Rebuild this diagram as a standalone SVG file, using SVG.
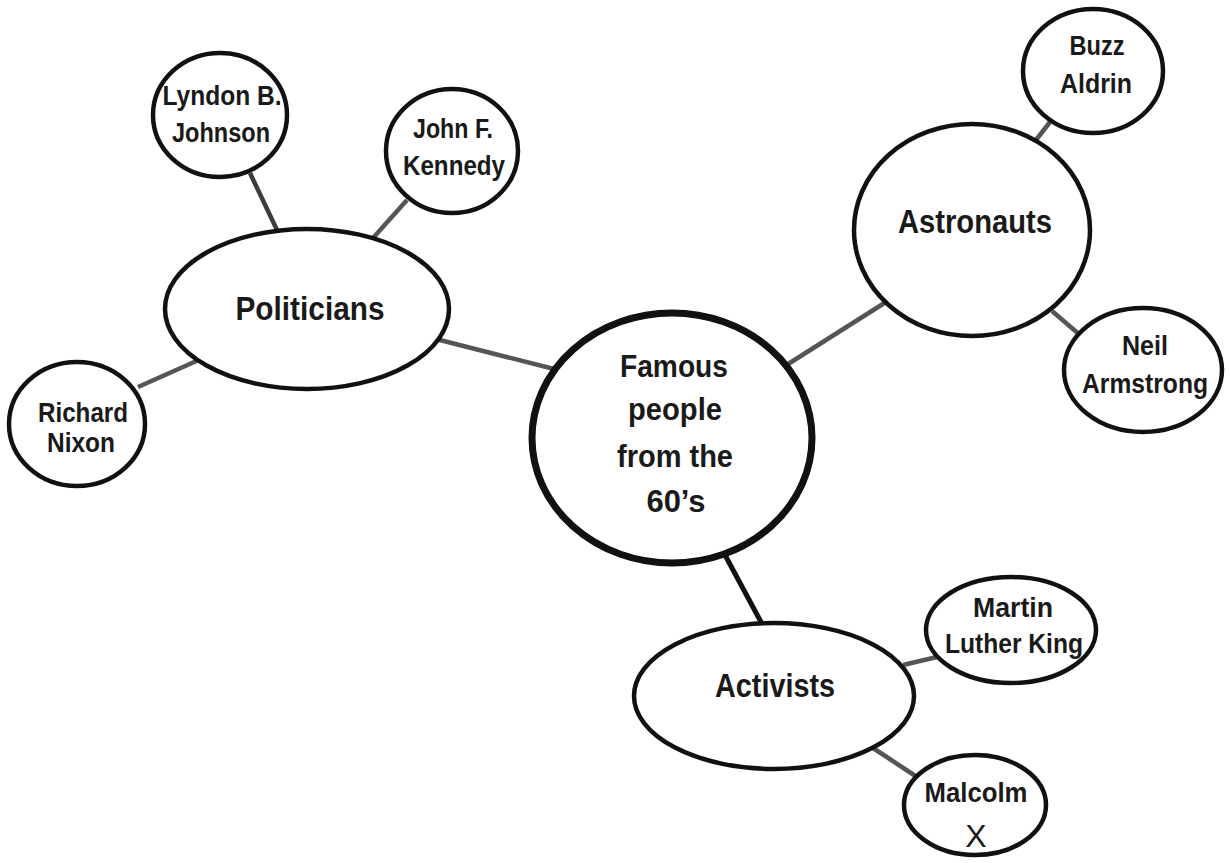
<svg xmlns="http://www.w3.org/2000/svg" width="1230" height="863" viewBox="0 0 1230 863">
  <style>
    .node { fill: #fff; stroke: #111; stroke-width: 4.5; }
    .hub { fill: #fff; stroke: #111; stroke-width: 7; }
    .link { stroke: #555; stroke-width: 4.5; fill: none; }
    .link.dark { stroke: #3c3c3c; }
    .link.black { stroke: #111; stroke-width: 5; }
    text { font-family: "Liberation Sans", Arial, sans-serif; font-weight: bold; fill: #1a1a1a; text-anchor: middle; }
    .s { font-size: 28px; }
    .m { font-size: 31px; }
    .l { font-size: 33px; }
    .x { font-weight: normal; font-size: 32px; }
  </style>
  <rect width="1230" height="863" fill="#fff"/>

  <g id="connectors">
    <line class="link dark" x1="250" y1="173" x2="277" y2="230"/>
    <line class="link" x1="407" y1="200" x2="373" y2="238"/>
    <line class="link" x1="138" y1="387" x2="210" y2="355"/>
    <line class="link" x1="432" y1="338" x2="558" y2="370"/>
    <line class="link" x1="785" y1="366" x2="886" y2="302"/>
    <line class="link" x1="1050" y1="122" x2="1036" y2="140"/>
    <line class="link" x1="1052" y1="311" x2="1080" y2="335"/>
    <line class="link black" x1="725" y1="555" x2="761" y2="622"/>
    <line class="link" x1="903" y1="665" x2="937" y2="657"/>
    <line class="link" x1="873" y1="748" x2="917" y2="777"/>
  </g>

  <g id="center">
    <ellipse class="hub" cx="672" cy="438" rx="140" ry="125"/>
    <text class="m" x="674" y="377" textLength="108" lengthAdjust="spacingAndGlyphs">Famous</text>
    <text class="m" x="675" y="420" textLength="94" lengthAdjust="spacingAndGlyphs">people</text>
    <text class="m" x="675" y="467" textLength="116" lengthAdjust="spacingAndGlyphs">from the</text>
    <text class="m" x="676" y="512" textLength="59" lengthAdjust="spacingAndGlyphs">60’s</text>
  </g>

  <g id="politicians">
    <ellipse class="node" cx="307" cy="309" rx="142" ry="80"/>
    <text class="l" x="310" y="320" textLength="149" lengthAdjust="spacingAndGlyphs">Politicians</text>
  </g>

  <g id="lyndon-johnson">
    <ellipse class="node" cx="220" cy="115" rx="67" ry="62"/>
    <text class="s" x="222" y="105" textLength="119" lengthAdjust="spacingAndGlyphs">Lyndon B.</text>
    <text class="s" x="221" y="142" textLength="98" lengthAdjust="spacingAndGlyphs">Johnson</text>
  </g>

  <g id="john-kennedy">
    <ellipse class="node" cx="452" cy="151" rx="66" ry="62"/>
    <text class="s" x="453" y="138" textLength="80" lengthAdjust="spacingAndGlyphs">John F.</text>
    <text class="s" x="454" y="175" textLength="102" lengthAdjust="spacingAndGlyphs">Kennedy</text>
  </g>

  <g id="richard-nixon">
    <ellipse class="node" cx="77" cy="424" rx="68" ry="62"/>
    <text class="s" x="83" y="422" textLength="90" lengthAdjust="spacingAndGlyphs">Richard</text>
    <text class="s" x="81" y="452" textLength="68" lengthAdjust="spacingAndGlyphs">Nixon</text>
  </g>

  <g id="astronauts">
    <ellipse class="node" cx="972" cy="230" rx="118" ry="106"/>
    <text class="l" x="975" y="233" textLength="154" lengthAdjust="spacingAndGlyphs">Astronauts</text>
  </g>

  <g id="buzz-aldrin">
    <ellipse class="node" cx="1093" cy="71" rx="70" ry="62"/>
    <text class="s" x="1097" y="55" textLength="55" lengthAdjust="spacingAndGlyphs">Buzz</text>
    <text class="s" x="1096" y="93" textLength="72" lengthAdjust="spacingAndGlyphs">Aldrin</text>
  </g>

  <g id="neil-armstrong">
    <ellipse class="node" cx="1143" cy="370" rx="79" ry="62"/>
    <text class="s" x="1145" y="355" textLength="46" lengthAdjust="spacingAndGlyphs">Neil</text>
    <text class="s" x="1145" y="393" textLength="126" lengthAdjust="spacingAndGlyphs">Armstrong</text>
  </g>

  <g id="activists">
    <ellipse class="node" cx="774" cy="696" rx="140" ry="73"/>
    <text class="l" x="775" y="697" textLength="120" lengthAdjust="spacingAndGlyphs">Activists</text>
  </g>

  <g id="martin-luther-king">
    <ellipse class="node" cx="1011" cy="630" rx="85" ry="53"/>
    <text class="s" x="1013" y="617" textLength="80" lengthAdjust="spacingAndGlyphs">Martin</text>
    <text class="s" x="1014" y="653" textLength="138" lengthAdjust="spacingAndGlyphs">Luther King</text>
  </g>

  <g id="malcolm-x">
    <ellipse class="node" cx="975" cy="805" rx="71" ry="50"/>
    <text class="s" x="976" y="802" textLength="103" lengthAdjust="spacingAndGlyphs">Malcolm</text>
    <text class="x" x="976" y="847">X</text>
  </g>
</svg>
